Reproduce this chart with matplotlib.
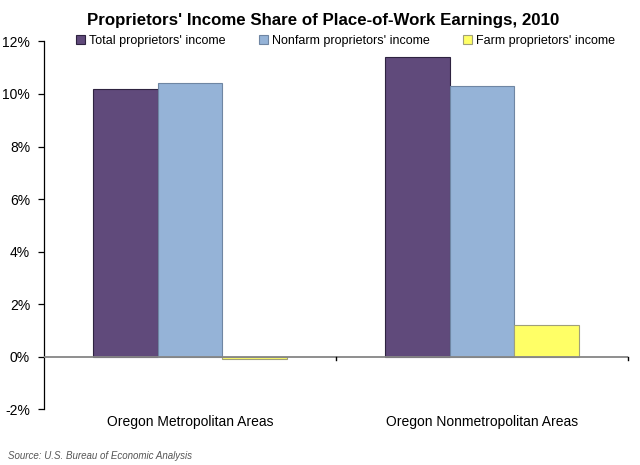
import matplotlib.pyplot as plt
import numpy as np
from matplotlib.ticker import FuncFormatter

plt.rcParams['font.family'] = ['Liberation Sans', 'DejaVu Sans']

# Proprietors' income share of place-of-work earnings, 2010 (percent)
areas = ["Oregon Metropolitan Areas", "Oregon Nonmetropolitan Areas"]
series = ["Total proprietors' income", "Nonfarm proprietors' income", "Farm proprietors' income"]
total = [10.2, 11.4]
nonfarm = [10.4, 10.3]
farm = [-0.1, 1.2]

colors = ["#604A7B", "#95B3D7", "#FFFF66"]
edges = ["#2E2340", "#6F86A3", "#A0A07A"]

fig = plt.figure(figsize=(6.4, 4.65), dpi=100)
ax = fig.add_axes([44/640, 1-409.3/465, (628-44)/640, (409.3-41.4)/465])

x = np.arange(len(areas))
w = 0.222
for i, (vals, name) in enumerate(zip([total, nonfarm, farm], series)):
    ax.bar(x + (i - 1) * w, vals, w, color=colors[i], edgecolor=edges[i],
           linewidth=0.8, label=name, zorder=2)

ax.set_xlim(-0.5, 1.5)
ax.set_ylim(-2, 12)
ax.set_yticks(np.arange(-2, 13, 2))
ax.yaxis.set_major_formatter(FuncFormatter(lambda v, p: f"{v:.0f}%"))

for s in ['top', 'right', 'bottom']:
    ax.spines[s].set_visible(False)
ax.spines['left'].set_color('black')
ax.spines['left'].set_linewidth(0.9)
ax.tick_params(axis='y', direction='out', length=4, width=0.9, labelsize=10, pad=6)

# zero line acting as category axis
ax.axhline(0, color='#868686', linewidth=1.3, zorder=3)
for xt in [0.5, 1.5]:
    ax.plot([xt, xt], [0, -0.12], color='black', linewidth=1, zorder=3, clip_on=False)

ax.set_xticks([])
for xi, name in zip(x, areas):
    ax.text(xi, -2.5, name, ha='center', va='center', fontsize=10)

fig.text(0.505, 1-20/465, "Proprietors' Income Share of Place-of-Work Earnings, 2010",
         ha='center', va='center', fontsize=12.2, fontweight='bold')

fig.legend(loc='center', bbox_to_anchor=(0.54, 1-41/465), ncol=3, frameon=False,
           fontsize=9, handlelength=0.7, handleheight=0.7, handletextpad=0.3,
           columnspacing=2.7, borderaxespad=0)

fig.text(8/640, 1-456/465, "Source: U.S. Bureau of Economic Analysis",
         ha='left', va='center', fontsize=7, style='italic', color='#555555')

fig.savefig("out.png", dpi=100)
